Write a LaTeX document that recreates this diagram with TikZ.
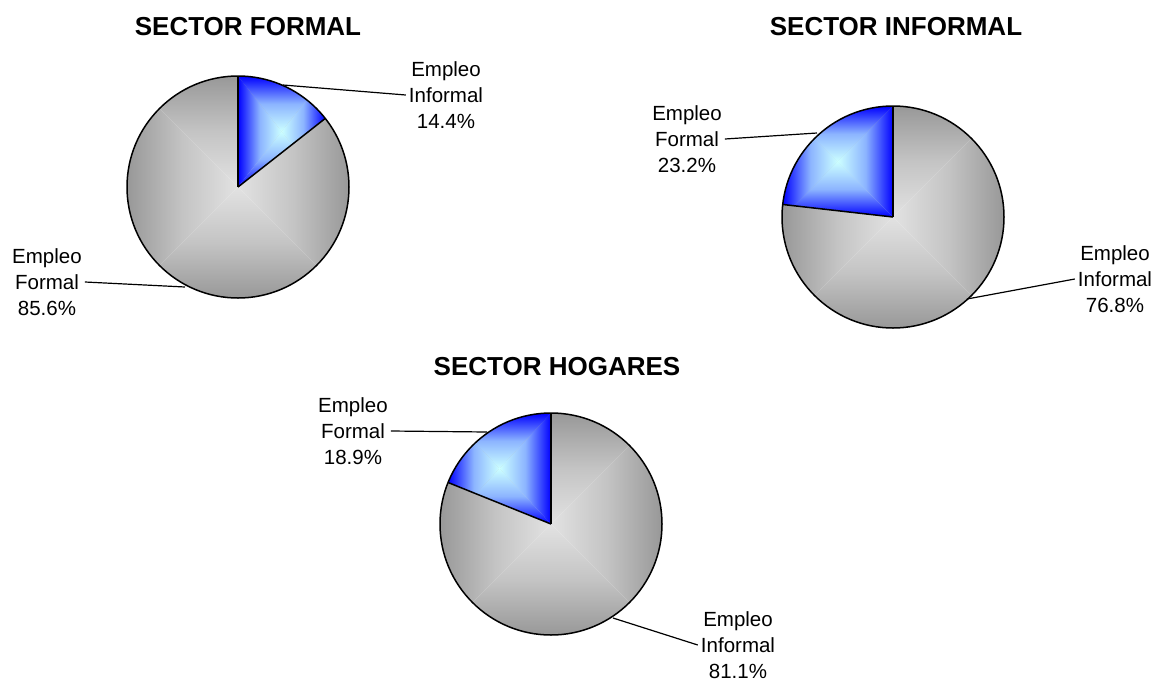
\documentclass[tikz,border=0pt]{standalone}
\usepackage{fontspec}
\setmainfont{Liberation Sans}
\definecolor{pieout}{HTML}{989898}
\definecolor{pieout2}{HTML}{C4C4C4}
\definecolor{piein}{HTML}{E2E2E2}
\definecolor{blueout}{HTML}{0000FF}
\definecolor{blueout2}{HTML}{8CB4FF}
\definecolor{bluein}{HTML}{CCFFFF}
%% square gradient from centre: cx, cy, half width, half height, outer, middle, inner
\newcommand{\sqshade}[7]{%
  \shade[top color=#5,bottom color=#7,middle color=#6] (#1,#2) -- (#1-#3,#2-#4) -- (#1+#3,#2-#4) -- cycle;
  \shade[top color=#7,bottom color=#5,middle color=#6] (#1,#2) -- (#1-#3,#2+#4) -- (#1+#3,#2+#4) -- cycle;
  \shade[left color=#5,right color=#7,middle color=#6] (#1,#2) -- (#1-#3,#2-#4) -- (#1-#3,#2+#4) -- cycle;
  \shade[left color=#7,right color=#5,middle color=#6] (#1,#2) -- (#1+#3,#2-#4) -- (#1+#3,#2+#4) -- cycle;
}
\tikzset{
  rim/.style={draw=black,line width=1.5pt,line join=round},
  lbl/.style={align=center,inner sep=3pt,font=\fontsize{20.5}{26}\selectfont},
  ttl/.style={anchor=base,font=\bfseries\fontsize{26}{30}\selectfont},
  leader/.style={draw=black,line width=1.2pt}
}
\begin{document}
\begin{tikzpicture}[x=1pt,y=-1pt]
\useasboundingbox (0,0) rectangle (1157,681);

%% sector formal
\coordinate (c1) at (238,187);
\begin{scope}
\clip (c1) circle[radius=111];
\sqshade{238}{187}{111}{111}{pieout}{pieout2}{piein}
\end{scope}
\begin{scope}
\clip (c1) -- ++(-90:111) arc[start angle=-90,end angle=-38.16,radius=111] -- cycle;
\sqshade{281.6}{131.5}{43.7}{55.5}{blueout}{blueout2}{bluein}
\end{scope}
\draw[rim] (c1) circle[radius=111];
\draw[rim] (c1) -- ++(-90:111);
\draw[rim] (c1) -- ++(-38.16:111);
\node[ttl] (t1) at (248,35) {SECTOR FORMAL};
\node[lbl] (l1a) at (446,95) {Empleo\\Informal\\14.4\%};
\node[lbl] (l1b) at (47,282) {Empleo\\Formal\\85.6\%};
\coordinate (e1a) at (283,85);
\coordinate (e1b) at (185,287);
\draw[leader] (l1a.west) -- (e1a);
\draw[leader] (l1b.east) -- (e1b);

%% sector informal
\coordinate (c2) at (893,217);
\begin{scope}
\clip (c2) circle[radius=111];
\sqshade{893}{217}{111}{111}{pieout}{pieout2}{piein}
\end{scope}
\begin{scope}
\clip (c2) -- ++(-90:111) arc[start angle=-90,end angle=-173.52,radius=111] -- cycle;
\sqshade{837.9}{161.5}{55.2}{55.5}{blueout}{blueout2}{bluein}
\end{scope}
\draw[rim] (c2) circle[radius=111];
\draw[rim] (c2) -- ++(-90:111);
\draw[rim] (c2) -- ++(-173.52:111);
\node[ttl] (t2) at (896,35) {SECTOR INFORMAL};
\node[lbl] (l2a) at (687,139) {Empleo\\Formal\\23.2\%};
\node[lbl] (l2b) at (1115,279) {Empleo\\Informal\\76.8\%};
\coordinate (e2a) at (817,133);
\coordinate (e2b) at (967,299);
\draw[leader] (l2a.east) -- (e2a);
\draw[leader] (l2b.west) -- (e2b);

%% sector hogares
\coordinate (c3) at (551,524);
\begin{scope}
\clip (c3) circle[radius=111];
\sqshade{551}{524}{111}{111}{pieout}{pieout2}{piein}
\end{scope}
\begin{scope}
\clip (c3) -- ++(-90:111) arc[start angle=-90,end angle=-158.04,radius=111] -- cycle;
\sqshade{499.5}{468.5}{51.5}{55.5}{blueout}{blueout2}{bluein}
\end{scope}
\draw[rim] (c3) circle[radius=111];
\draw[rim] (c3) -- ++(-90:111);
\draw[rim] (c3) -- ++(-158.04:111);
\node[ttl] (t3) at (557,375) {SECTOR HOGARES};
\node[lbl] (l3a) at (353,431) {Empleo\\Formal\\18.9\%};
\node[lbl] (l3b) at (738,645) {Empleo\\Informal\\81.1\%};
\coordinate (e3a) at (487,432);
\coordinate (e3b) at (613,618);
\draw[leader] (l3a.east) -- (e3a);
\draw[leader] (l3b.west) -- (e3b);

\end{tikzpicture}
\end{document}
